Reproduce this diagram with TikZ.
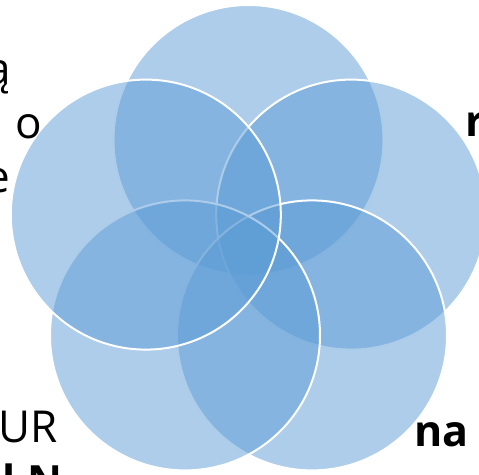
\documentclass[tikz,border=0pt]{standalone}
\usepackage{fontspec}
\setmainfont{Open Sans}
\begin{document}
\begin{tikzpicture}[x=1pt,y=-1pt,
  petal/.style={circle,inner sep=0pt,outer sep=0pt,minimum size=270pt,
    fill={rgb,255:red,91;green,155;blue,213},fill opacity=0.5,
    draw=white,draw opacity=1,line width=2pt},
  lbl/.style={inner sep=0pt,outer sep=0pt,text=black,font=\fontsize{44}{54}\selectfont},
  blbl/.style={inner sep=0pt,outer sep=0pt,text=black,font=\fontsize{43}{54}\selectfont\bfseries}]
\useasboundingbox (0,0) rectangle (479,474);
% circles, drawn in order
\node[petal] (ctop) at (248.5,140) {};
\node[petal] (cright) at (351.2,214.6) {};
\node[petal] (cbr) at (312,335.4) {};
\node[petal] (cbl) at (185,335.4) {};
\node[petal] (cleft) at (145.8,214.6) {};
% text fragments
\node[lbl,anchor=base east] (t1) at (11,84) {ą};
\node[lbl,anchor=base east] (t2) at (42,138) {o};
\node[lbl,anchor=base east] (t3) at (10,192) {e};
\node[lbl,anchor=base east] (t4) at (58,442) {UR};
\node[blbl,anchor=base east] (t5) at (62,496) {l N};
\node[blbl,anchor=base west] (t6) at (465,136) {r};
\node[blbl,anchor=base west] (t7) at (414,446) {na};
\end{tikzpicture}
\end{document}
